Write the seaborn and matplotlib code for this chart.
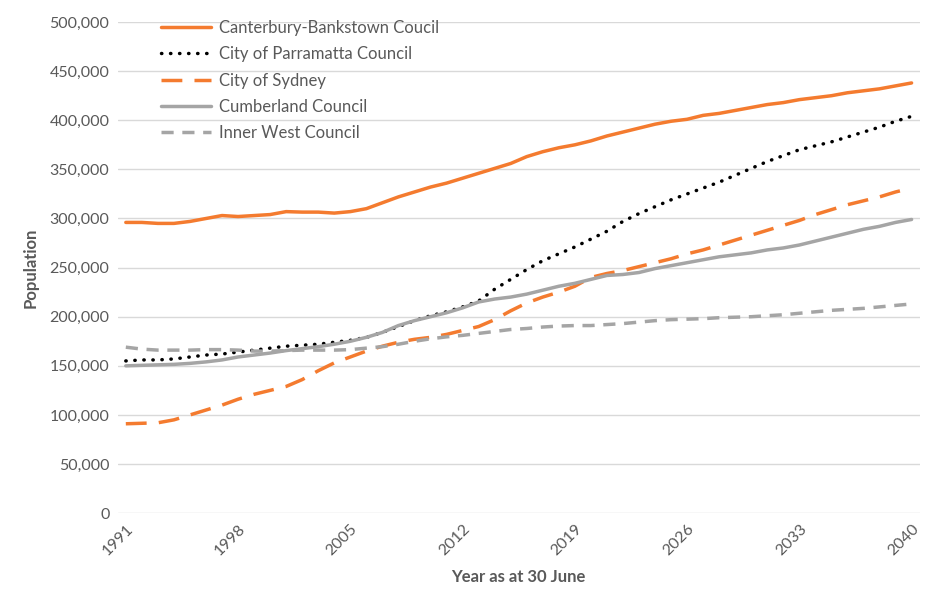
import numpy as np
import pandas as pd
import seaborn as sns
import matplotlib.pyplot as plt
from matplotlib.ticker import FuncFormatter

years = list(range(1991, 2041))

canterbury_bankstown = [
    296, 296, 295, 295, 297, 300, 303, 302, 303, 304,
    307, 306.5, 306.5, 305.5, 307, 310, 316, 322, 327, 332,
    336, 341, 346, 351, 356, 363, 368, 372, 375, 379,
    384, 388, 392, 396, 399, 401, 405, 407, 410, 413,
    416, 418, 421, 423, 425, 428, 430, 432, 435, 438,
]
parramatta = [
    155, 156, 156, 157, 159, 161, 162, 164, 166, 168,
    170, 171, 172, 174, 176, 179, 184, 190, 196, 201,
    205, 210, 216, 228, 238, 248, 257, 264, 271, 279,
    287, 297, 305, 312, 319, 325, 331, 337, 344, 351,
    358, 364, 370, 374, 378, 383, 388, 393, 399, 404,
]
sydney = [
    91, 91.5, 92, 95, 100, 105, 110, 116, 121, 125,
    129, 136, 145, 153, 159, 165, 170, 174, 177, 179,
    182, 186, 190, 197, 206, 214, 220, 225, 231, 240,
    244, 247, 251, 255, 259, 264, 268, 273, 278, 283,
    288, 293, 298, 304, 309, 314, 318, 322, 327, 331,
]
cumberland = [
    150, 150.5, 151, 151.5, 152.5, 154, 156, 159, 161, 163,
    165.5, 167.5, 169.5, 172, 175, 179, 184, 191, 196, 200,
    204, 209, 215, 218, 220, 223, 227, 231, 234, 238,
    242, 243, 245, 249, 252, 255, 258, 261, 263, 265,
    268, 270, 273, 277, 281, 285, 289, 292, 296, 299,
]
inner_west = [
    169, 167, 166, 166, 166, 166.5, 166.5, 166, 165, 165,
    165.5, 166, 166, 166, 166.5, 168, 169.5, 172, 175, 177.5,
    179.5, 181, 183, 185, 187, 188, 189.5, 190.5, 191, 191,
    192, 193, 194.5, 196, 197, 197.5, 198, 199, 199.5, 200,
    201, 202, 203.5, 205, 206.5, 207.5, 208.5, 210, 211.5, 213,
]

series_names = [
    'Canterbury-Bankstown Coucil',
    'City of Parramatta Council',
    'City of Sydney',
    'Cumberland Council',
    'Inner West Council',
]
tick_years = [1991, 1998, 2005, 2012, 2019, 2026, 2033, 2040]

ORANGE = '#F47B2F'
GREY = '#A5A5A5'
TEXT = '#595959'

styles = {
    series_names[0]: dict(color=ORANGE, linestyle='-'),
    series_names[1]: dict(color='black', linestyle=(0, (0.1, 2.5)), dash_capstyle='round'),
    series_names[2]: dict(color=ORANGE, linestyle=(0, (6, 3.5))),
    series_names[3]: dict(color=GREY, linestyle='-'),
    series_names[4]: dict(color=GREY, linestyle=(0, (3.5, 2.5))),
}

df = pd.DataFrame({'year': years})
for name, vals in zip(series_names,
                      [canterbury_bankstown, parramatta, sydney, cumberland, inner_west]):
    df[name] = np.array(vals) * 1000
long_df = df.melt(id_vars='year', var_name='council', value_name='population')

sns.set_theme(style='white')
plt.rcParams['font.family'] = ['Lato', 'DejaVu Sans']

fig = plt.figure(figsize=(9.5, 5.96), dpi=100)
ax = fig.add_axes([0.124, 0.139, 0.844, 0.824])

for name in series_names:
    sub = long_df[long_df['council'] == name]
    sns.lineplot(data=sub, x='year', y='population', ax=ax, label=name,
                 linewidth=2.5, solid_capstyle='round', **styles[name])

ax.set_xlim(1990.5, 2040.5)
ax.set_ylim(0, 500000)
ax.set_yticks(range(0, 500001, 50000))
ax.yaxis.set_major_formatter(FuncFormatter(lambda v, p: f'{int(v):,}'))
ax.set_xticks(tick_years)
ax.set_xticklabels([str(y) for y in tick_years], rotation=45, ha='right',
                   rotation_mode='anchor')
ax.tick_params(axis='both', length=0, labelsize=11.5, labelcolor=TEXT, pad=6)
ax.grid(axis='y', color='#D9D9D9', linewidth=1)
ax.grid(axis='x', visible=False)
for s in ax.spines.values():
    s.set_visible(False)

ax.set_xlabel('Year as at 30 June', fontsize=12, fontweight='bold', color=TEXT, labelpad=8)
ax.set_ylabel('Population', fontsize=12, fontweight='bold', color=TEXT, labelpad=8)

leg = ax.legend(loc='upper left', bbox_to_anchor=(0.045, 1.018), frameon=False,
                fontsize=12, handlelength=3.0, handletextpad=0.5,
                labelspacing=0.62, borderaxespad=0)
for t in leg.get_texts():
    t.set_color(TEXT)

fig.savefig('out.png', dpi=100)
